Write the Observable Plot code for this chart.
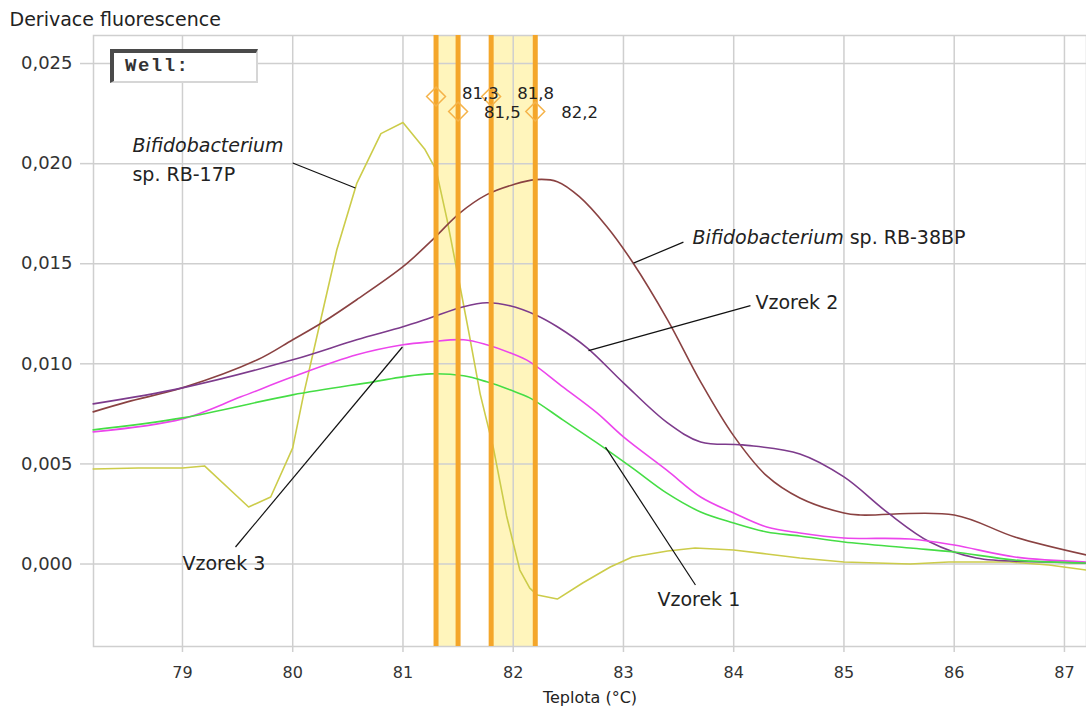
<!DOCTYPE html>
<html><head><meta charset="utf-8">
<script src="https://cdn.jsdelivr.net/npm/d3@7"></script>
<script src="https://cdn.jsdelivr.net/npm/@observablehq/plot@0.6"></script>
<style>
body{margin:0;background:#fff;}
#wrap{position:relative;width:1086px;height:710px;overflow:hidden;}
.well{position:absolute;left:110px;top:49px;width:148px;height:34px;box-sizing:border-box;
border-top:4px solid #4a4a4a;border-left:4px solid #4a4a4a;border-right:2px solid #d6d6d6;border-bottom:2px solid #d6d6d6;
background:#fff;font:bold 19px "Liberation Mono","DejaVu Sans Mono",monospace;letter-spacing:1.5px;color:#333;line-height:27px;padding-left:11px;}
</style></head>
<body><div id="wrap"></div>
<script>
// ---- data ----
const xTicks = [79, 80, 81, 82, 83, 84, 85, 86, 87];
const yTicks = [0, 0.005, 0.010, 0.015, 0.020, 0.025];

const rb17pT = [78.19, 78.6, 79.0, 79.2, 79.6, 79.8, 80.0, 80.1, 80.25, 80.4, 80.58, 80.8, 81.0, 81.2, 81.3, 81.4, 81.52, 81.6, 81.7, 81.82, 81.94, 82.06, 82.15, 82.22, 82.4, 82.63, 82.88, 83.08, 83.4, 83.65, 84.0, 84.3, 84.6, 85.0, 85.6, 85.95, 86.5, 86.86, 87.2];
const rb17pV = [0.00475, 0.0048, 0.0048, 0.0049, 0.00285, 0.00335, 0.0058, 0.0085, 0.0121, 0.0157, 0.0190, 0.0215, 0.02205, 0.0207, 0.0197, 0.0172, 0.0138, 0.0115, 0.0085, 0.0058, 0.0024, -0.0003, -0.0012, -0.00155, -0.00175, -0.00095, -0.00015, 0.00035, 0.00065, 0.0008, 0.0007, 0.0005, 0.0003, 0.0001, 0.0, 0.0001, 0.0001, -0.00005, -0.0003];

const rb38bpT = [78.19, 78.5, 79.0, 79.68, 80.0, 80.28, 80.58, 81.0, 81.25, 81.52, 81.76, 82.0, 82.2, 82.4, 82.6, 82.85, 83.08, 83.4, 83.7, 84.0, 84.3, 84.6, 85.0, 85.15, 86.0, 86.55, 87.2];
const rb38bpV = [0.0076, 0.0081, 0.0088, 0.0102, 0.0112, 0.0121, 0.0132, 0.01485, 0.0161, 0.01755, 0.01845, 0.01895, 0.0192, 0.0191, 0.01835, 0.01685, 0.0151, 0.0122, 0.0091, 0.0064, 0.0044, 0.0033, 0.00255, 0.00245, 0.00245, 0.00135, 0.00045];

const vz2T = [78.19, 79.0, 80.0, 80.58, 81.0, 81.25, 81.55, 81.76, 81.97, 82.2, 82.4, 82.67, 83.0, 83.4, 83.7, 84.08, 84.6, 85.0, 85.4, 85.78, 86.2, 86.86, 87.2];
const vz2V = [0.0080, 0.0088, 0.0102, 0.0112, 0.01185, 0.0123, 0.01285, 0.01305, 0.0129, 0.01245, 0.01185, 0.0108, 0.00905, 0.00705, 0.0061, 0.00595, 0.0055, 0.00435, 0.00255, 0.0011, 0.0003, 0.0001, 0.00005];

const vz3T = [78.19, 79.0, 79.53, 80.0, 80.58, 81.0, 81.25, 81.55, 81.76, 81.97, 82.15, 82.45, 82.76, 83.0, 83.39, 83.7, 84.0, 84.3, 84.6, 85.0, 85.6, 86.0, 86.55, 87.2];
const vz3V = [0.0066, 0.00725, 0.00835, 0.00935, 0.01045, 0.01095, 0.0111, 0.0112, 0.01095, 0.01055, 0.0101, 0.00885, 0.00755, 0.00635, 0.0047, 0.00335, 0.00255, 0.00185, 0.00155, 0.0013, 0.00125, 0.00095, 0.00035, 0.0001];

const vz1T = [78.19, 79.0, 80.0, 80.73, 81.0, 81.25, 81.55, 81.76, 81.97, 82.15, 82.45, 82.76, 83.08, 83.39, 83.7, 84.0, 84.3, 84.6, 85.0, 85.6, 86.0, 86.55, 87.2];
const vz1V = [0.0067, 0.0073, 0.00845, 0.0091, 0.00935, 0.0095, 0.0094, 0.0091, 0.0087, 0.0083, 0.0072, 0.00605, 0.0048, 0.00355, 0.0026, 0.00205, 0.0016, 0.0014, 0.0011, 0.0008, 0.0006, 0.0002, 0.00005];

const meltTemps = [81.3, 81.5, 81.8, 82.2];
const meltLabels = ["81,3", "81,5", "81,8", "82,2"];
const meltMarkY = [0.02335, 0.0226, 0.02335, 0.0226];
const meltLabelY = [0.02348, 0.02255, 0.02348, 0.02255];
const bandLo = [81.3, 81.8];
const bandHi = [81.5, 82.2];

const noteText = ["Bifidobacterium sp. RB-38BP", "Vzorek 2", "Vzorek 3", "Vzorek 1"];
const noteX = [83.626, 84.197, 79.0, 83.308];
const noteY = [0.01628, 0.01306, 0.0, -0.0018];
const leaderX1 = [80.0, 83.544, 84.152, 79.481, 82.837];
const leaderY1 = [0.02003, 0.01608, 0.01291, 0.00085, 0.00584];
const leaderX2 = [80.569, 83.091, 82.683, 80.995, 83.653];
const leaderY2 = [0.01878, 0.01503, 0.01066, 0.01084, -0.00105];
const rb17pLabelX = 78.546;
const rb17pGenusY = 0.02088;
const rb17pStrainY = 0.01943;

// ---- build tables ----
const series = [
  {name: "RB-17P", T: rb17pT, V: rb17pV, color: "#cccc4a", curve: "linear"},
  {name: "RB-38BP", T: rb38bpT, V: rb38bpV, color: "#8a4242", curve: "catmull-rom"},
  {name: "Vzorek 2", T: vz2T, V: vz2V, color: "#7d3b8c", curve: "catmull-rom"},
  {name: "Vzorek 3", T: vz3T, V: vz3V, color: "#ec45ec", curve: "catmull-rom"},
  {name: "Vzorek 1", T: vz1T, V: vz1V, color: "#45dd45", curve: "catmull-rom"}
];
const lineMarks = series.map(s => Plot.line(s.T.map((t, i) => ({t, v: s.V[i]})), {x: "t", y: "v", stroke: s.color, strokeWidth: 1.6, curve: s.curve}));
const bands = bandLo.map((lo, i) => ({lo, hi: bandHi[i]}));
const melts = meltTemps.map((t, i) => ({t, y: meltMarkY[i], ly: meltLabelY[i], label: meltLabels[i]}));
const notes = noteText.map((text, i) => ({text, x: noteX[i], y: noteY[i]}));
const leaders = leaderX1.map((x1, i) => ({x1, y1: leaderY1[i], x2: leaderX2[i], y2: leaderY2[i]}));

const FONT = "DejaVu Sans, Verdana, sans-serif";
const fmtY = d => d3.format(".3f")(d).replace(".", ",");

const chart = Plot.plot({
  width: 1086, height: 710,
  marginLeft: 93, marginRight: 0, marginTop: 35, marginBottom: 64,
  style: {fontFamily: FONT, background: "#fff", overflow: "visible"},
  x: {domain: [78.193, 87.2]},
  y: {domain: [-0.00412, 0.0264]},
  marks: [
    Plot.rect(bands, {x1: "lo", x2: "hi", fill: "#fff3b0", fillOpacity: 0.85}),
    Plot.gridX(xTicks, {stroke: "#cfcfcf", strokeOpacity: 1, strokeWidth: 1.5}),
    Plot.gridY(yTicks, {stroke: "#cfcfcf", strokeOpacity: 1, strokeWidth: 1.5}),
    Plot.frame({stroke: "#cfcfcf", strokeWidth: 1.5}),
    Plot.axisY(yTicks, {tickFormat: fmtY, tickSize: 13, tickPadding: 8, stroke: "#cfcfcf", strokeWidth: 1.5, fill: "#333", fontSize: 18, label: null}),
    Plot.axisX(xTicks, {tickFormat: d => String(d), tickSize: 6, tickPadding: 14, stroke: "#cfcfcf", strokeWidth: 1.5, fill: "#333", fontSize: 16, label: null}),
    ...lineMarks,
    Plot.ruleX(meltTemps, {stroke: "#f4a62a", strokeWidth: 5}),
    Plot.dot(melts, {x: "t", y: "y", symbol: "diamond2", r: 8.5, stroke: "#f5b34a", strokeWidth: 1.5, fill: "none"}),
    Plot.text(melts, {x: "t", y: "ly", text: "label", dx: 26, textAnchor: "start", fontSize: 16.5, fill: "#222"}),
    Plot.link(leaders, {x1: "x1", y1: "y1", x2: "x2", y2: "y2", stroke: "#111", strokeWidth: 1.2}),
    Plot.text(notes, {x: "x", y: "y", text: "text", textAnchor: "start", fontSize: 19, fill: "#222"}),
    Plot.text(["Bifidobacterium"], {x: () => rb17pLabelX, y: () => rb17pGenusY, textAnchor: "start", fontSize: 19, fill: "#222", fontStyle: "italic"}),
    Plot.text(["sp. RB-17P"], {x: () => rb17pLabelX, y: () => rb17pStrainY, textAnchor: "start", fontSize: 19, fill: "#222"}),
    Plot.text(["Derivace fluorescence"], {frameAnchor: "top-left", lineAnchor: "middle", dx: -84, dy: -16, textAnchor: "start", fontSize: 19, fill: "#222"}),
    Plot.text(["Teplota (°C)"], {frameAnchor: "bottom", lineAnchor: "middle", dy: 51, fontSize: 16, fill: "#222"})
  ]
});

// italicise genus name in mixed-style label
d3.select(chart).selectAll("text").each(function() {
  const el = this;
  if (el.textContent === "Bifidobacterium sp. RB-38BP") {
    el.textContent = "";
    const a = document.createElementNS("http://www.w3.org/2000/svg", "tspan");
    a.setAttribute("font-style", "italic");
    a.textContent = "Bifidobacterium";
    el.appendChild(a);
    el.appendChild(document.createTextNode(" sp. RB-38BP"));
  }
});

const wrap = document.getElementById("wrap");
wrap.appendChild(chart);
const well = document.createElement("div");
well.className = "well";
well.textContent = "Well:";
wrap.appendChild(well);
</script>
</body></html>
